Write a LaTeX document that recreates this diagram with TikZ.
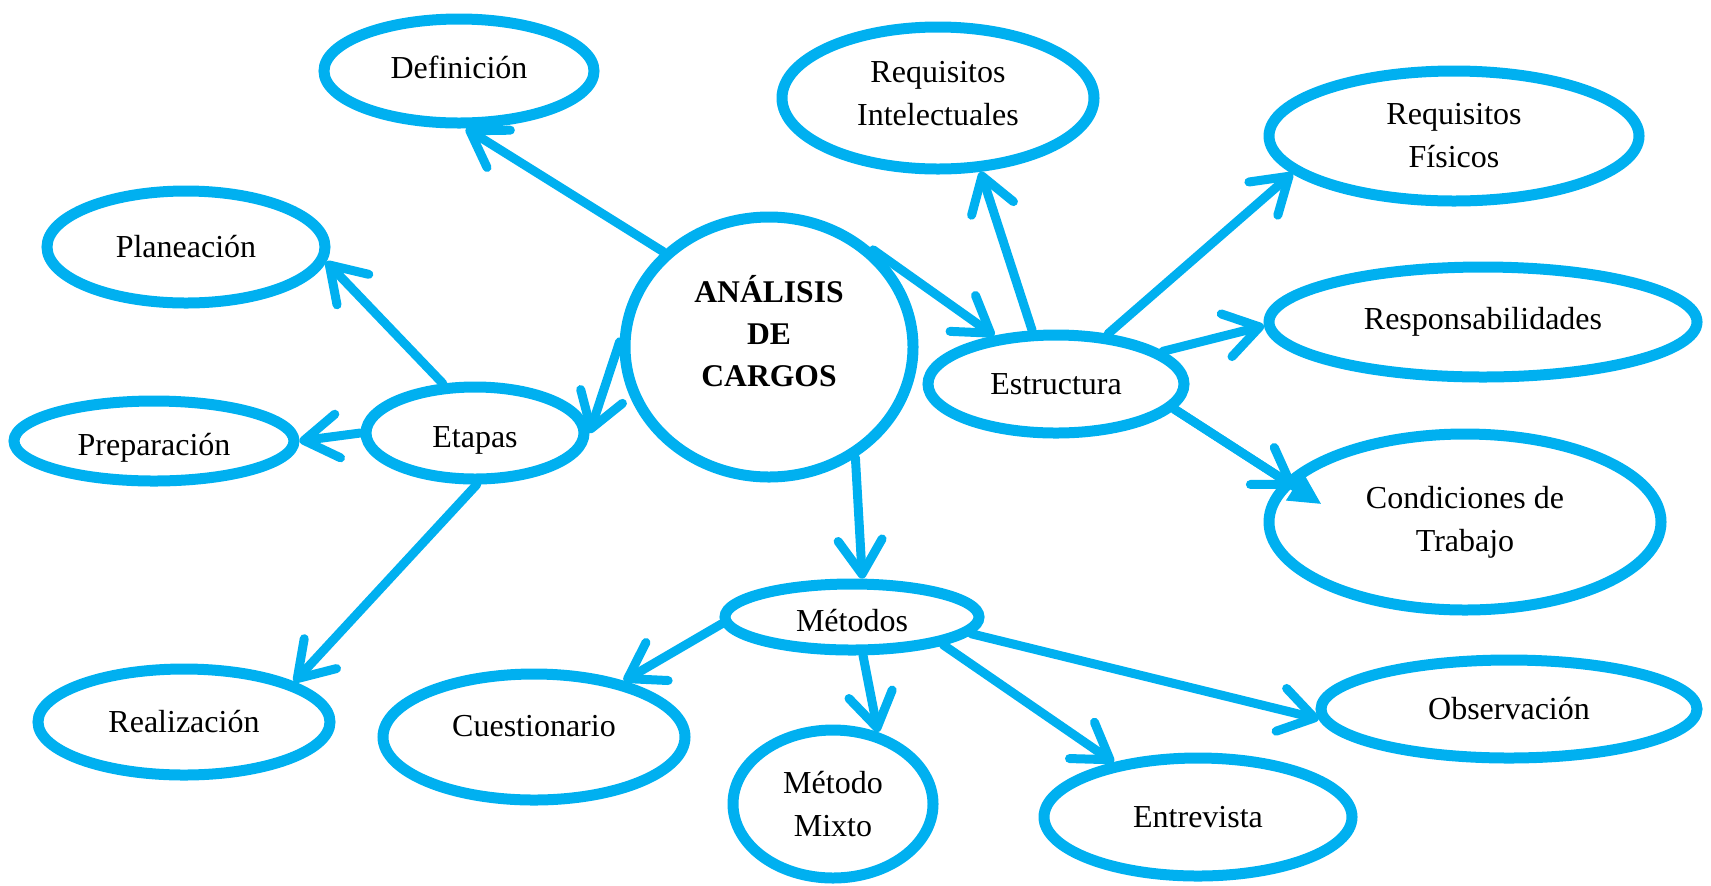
\documentclass[tikz,border=0pt]{standalone}
\usepackage{fontspec}
\setmainfont{Liberation Serif}
\usetikzlibrary{shapes.geometric,arrows.meta}
\definecolor{cyanblue}{HTML}{00B0F0}
\newcommand{\vshift}[2]{\raisebox{#1}[\height][\depth]{#2}}
\begin{document}
\begin{tikzpicture}[x=0.5pt,y=-0.5pt,
  ell/.style 2 args={draw=cyanblue, line width=5.5pt, ellipse, inner sep=0pt,
    minimum width=#1pt, minimum height=#2pt, align=center,
    font=\fontsize{16}{21.5}\selectfont},
  txt/.style={inner sep=0pt, align=center, font=\fontsize{16}{21.5}\selectfont},
  arr/.style={draw=cyanblue, line width=4.5pt, line cap=round,
    -{Straight Barb[length=17pt,width=22pt,round]}},
  tri/.style={draw=cyanblue, line width=4.5pt, line cap=round,
    -{Triangle[length=16pt,width=15pt]}}]
\useasboundingbox (0,0) rectangle (1711,885);
% nodes
\node[ell={135}{52}] (def) at (459,71) {\vshift{2pt}{Definición}};
\node[ell={156}{71}] (reqint) at (938,98) {};
\node[txt] (reqinttxt) at (938,94) {Requisitos\\Intelectuales};
\node[ell={185}{65}] (reqfis) at (1454,136) {Requisitos\\Físicos};
\node[ell={139}{56}] (plan) at (186,247) {Planeación};
\node[ell={144}{130}] (an) at (769,347) {};
\node[txt, font=\fontsize{15.8}{21}\selectfont\bfseries] (antxt) at (769,331) {ANÁLISIS\\DE\\CARGOS};
\node[ell={214}{55}] (resp) at (1483,322) {Responsabilidades};
\node[ell={128}{49}] (est) at (1056,384) {Estructura};
\node[ell={140}{40}] (prep) at (154,441) {\vshift{-3.5pt}{Preparación}};
\node[ell={109}{46}] (etapas) at (475,433) {\vshift{-3.5pt}{Etapas}};
\node[ell={196}{88}] (cond) at (1465,522) {Condiciones de\\Trabajo};
\node[ell={127}{33}] (met) at (852,617) {\vshift{-2pt}{Métodos}};
\node[ell={146}{53}] (real) at (184,722) {Realización};
\node[ell={151}{63}] (cues) at (534,737) {};
\node[txt] (cuestxt) at (534,726) {Cuestionario};
\node[ell={188}{49}] (obs) at (1509,709) {Observación};
\node[ell={100}{74}] (mixto) at (833,804) {Método\\Mixto};
\node[ell={154}{59}] (entre) at (1198,817) {Entrevista};
% connectors
\draw[arr] (an.138) -- (def.277);
\draw[arr] (an.43) -- (est.142);
\draw[arr] (an.178) -- (etapas.east);
\draw[arr] (etapas.123) -- (plan.354);
\draw[arr] (etapas.west) -- (prep.east);
\draw[arr] (etapas.272) -- (real.20);
\draw[arr] (an.308) -- (met.75);
\draw[arr] (est.114) -- (reqint.300);
\draw[arr] (est.44) -- (reqfis.193);
\draw[arr] (est.17) -- (resp.181);
\draw[tri, shorten >=-22pt] (est.348) -- (cond.167);
\draw[arr, shorten >=-6pt] (est.348) -- (cond.167);
\draw[arr] (met.183) -- (cues.32);
\draw[arr] (met.286) -- (mixto.58);
\draw[arr] (met.343) -- (entre.147);
\draw[arr] (met.352) -- (obs.183);
\end{tikzpicture}
\end{document}
